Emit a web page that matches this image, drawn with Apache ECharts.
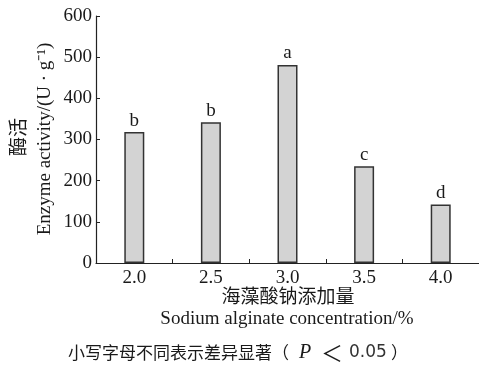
<!DOCTYPE html>
<html><head><meta charset="utf-8">
<script src="https://cdn.jsdelivr.net/npm/echarts@6/dist/echarts.min.js"></script>
<style>html,body{margin:0;padding:0;background:#fff}#c{width:479px;height:365px}</style>
</head><body><div id="c"></div>
<script>
const categories = ['2.0', '2.5', '3.0', '3.5', '4.0'];
const activity = [318, 342, 481, 235, 142];
const sigLetters = ['b', 'b', 'a', 'c', 'd'];
const yTicks = [0, 100, 200, 300, 400, 500, 600];

const serif = 'Liberation Serif';
const cjk = 'Noto Sans CJK SC';
const ink = '#1a1a1a';

const chart = echarts.init(document.getElementById('c'), null, {renderer: 'canvas'});
chart.setOption({
  animation: false,
  backgroundColor: '#fff',
  grid: {left: 96, right: 0, top: 16, height: 247},
  xAxis: {
    type: 'category',
    data: categories,
    boundaryGap: true,
    axisLine: {lineStyle: {color: '#222', width: 1.2}},
    axisTick: {show: true, inside: true, length: 4, alignWithLabel: false, interval: 0, lineStyle: {color: '#222'}},
    axisLabel: {fontFamily: serif, fontSize: 19, color: ink, margin: 6}
  },
  yAxis: {
    type: 'value',
    min: yTicks[0], max: yTicks[yTicks.length - 1], interval: 100,
    axisLine: {show: true, lineStyle: {color: '#222', width: 1.2}},
    axisTick: {show: true, inside: true, length: 4, lineStyle: {color: '#222'}},
    axisLabel: {fontFamily: serif, fontSize: 19, color: ink, margin: 4},
    splitLine: {show: false}
  },
  series: [{
    type: 'bar',
    data: activity.map((v, i) => ({value: v, label: {formatter: sigLetters[i]}})),
    barWidth: 20,
    itemStyle: {color: '#d3d3d3', borderColor: '#333', borderWidth: 1.5},
    label: {show: true, position: 'top', distance: 2, fontFamily: serif, fontSize: 19, color: ink}
  }],
  graphic: [
    {type: 'text', x: 18, y: 137, rotation: Math.PI / 2,
     style: {text: '酶活', fontFamily: cjk, fontSize: 19, fill: ink, align: 'center', verticalAlign: 'middle'}},
    {type: 'text', x: 45, y: 139, rotation: Math.PI / 2,
     style: {text: 'Enzyme activity/(U · g⁻¹)', fontFamily: serif, fontSize: 19, fill: ink, align: 'center', verticalAlign: 'middle'}},
    {type: 'text', x: 288, y: 296,
     style: {text: '海藻酸钠添加量', fontFamily: cjk, fontSize: 19, fill: ink, align: 'center', verticalAlign: 'middle'}},
    {type: 'text', x: 287, y: 319,
     style: {text: 'Sodium alginate concentration/%', fontFamily: serif, fontSize: 19, fill: ink, align: 'center', verticalAlign: 'middle'}},
    {type: 'text', x: 68, y: 353,
     style: {
       text: '{c|小写字母不同表示差异显著}{lp|（}{i|P}{lt|＜}{n|0.05}{rp|）}',
       align: 'left', verticalAlign: 'middle',
       rich: {
         c: {fontFamily: cjk, fontSize: 17, fill: ink},
         lp: {fontFamily: cjk, fontSize: 17, fill: ink, width: 27},
         i: {fontFamily: serif, fontSize: 20, fontStyle: 'italic', fill: ink, width: 22},
         lt: {fontFamily: cjk, fontSize: 22, fill: ink, width: 28},
         n: {fontFamily: 'DejaVu Sans', fontSize: 17, fill: '#333', width: 42},
         rp: {fontFamily: cjk, fontSize: 17, fill: ink}
       }
     }}
  ]
});
</script></body></html>
